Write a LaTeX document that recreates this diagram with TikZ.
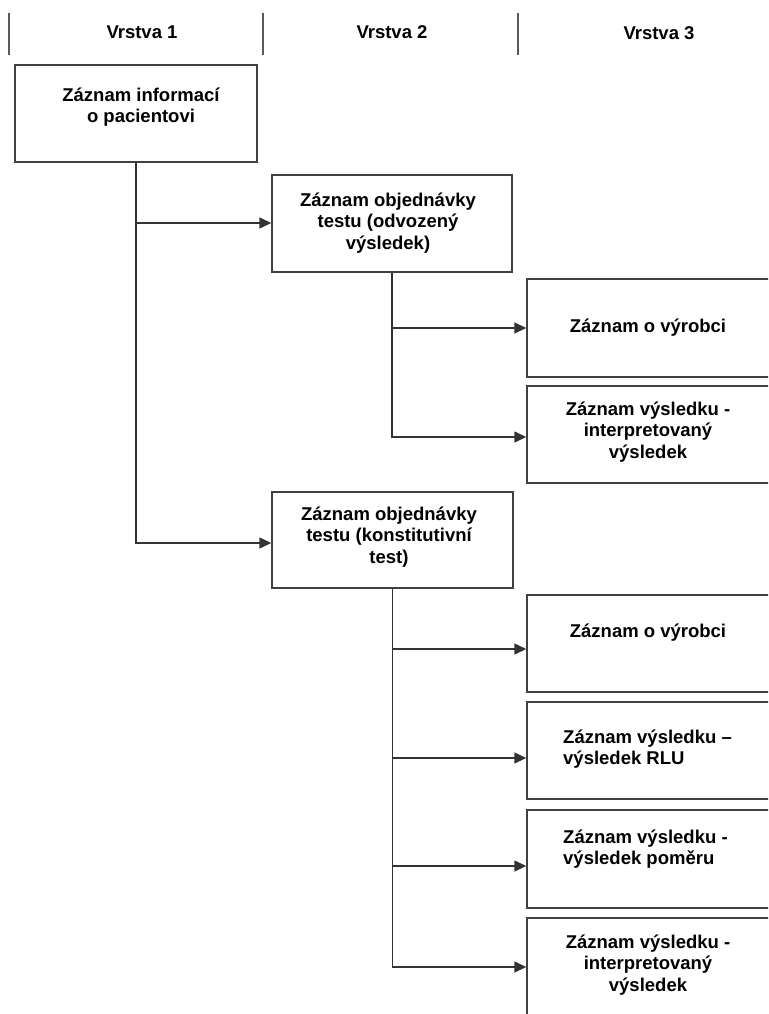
\documentclass[tikz,border=0pt]{standalone}
\usepackage{fontspec}
\setmainfont{Liberation Sans}
\usetikzlibrary{arrows.meta,calc}
\begin{document}
\begin{tikzpicture}[x=1pt,y=-1pt,
  line/.style={draw=black!80, line width=1.4pt},
  box/.style={draw=black!75, line width=1.4pt, rectangle, inner sep=0pt, fill=white},
  txt/.style={font=\bfseries\fontsize{18.5}{21.5}\selectfont, align=center, inner sep=0pt, text=black},
  hdr/.style={font=\bfseries\fontsize{18.5}{21.5}\selectfont, inner sep=0pt, text=black},
  bar/.style={draw=black!65, line width=1.5pt},
  arr/.style={line, -{Triangle[length=12pt,width=11pt]}}]
\useasboundingbox (0,0) rectangle (768,1014);
\clip (0,0) rectangle (768,1014);

% header
\draw[bar] (9,13) -- (9,55);
\draw[bar] (263,13) -- (263,55);
\draw[bar] (518,13) -- (518,55);
\node[hdr] (h1) at (142,32) {Vrstva 1};
\node[hdr] (h2) at (392,32) {Vrstva 2};
\node[hdr] (h3) at (659,33) {Vrstva 3};

% boxes
\node[box, minimum width=242pt, minimum height=97pt] (A) at (136,113.5) {};
\node[box, minimum width=240pt, minimum height=97pt] (B) at (392,223.5) {};
\node[box, minimum width=243pt, minimum height=98pt] (C1) at (648.5,328) {};
\node[box, minimum width=243pt, minimum height=97pt] (C2) at (648.5,434.5) {};
\node[box, minimum width=241pt, minimum height=96pt] (D) at (392.5,540) {};
\node[box, minimum width=243pt, minimum height=97pt] (E1) at (648.5,643.5) {};
\node[box, minimum width=243pt, minimum height=97pt] (E2) at (648.5,750.5) {};
\node[box, minimum width=243pt, minimum height=98pt] (E3) at (648.5,859) {};
\node[box, minimum width=243pt, minimum height=97pt] (E4) at (648.5,966.5) {};

% texts
\node[txt] (At) at (141,107) {Záznam informací\\o pacientovi};
\node[txt] (Bt) at (388,223) {Záznam objednávky\\testu (odvozený\\výsledek)};
\node[txt] (C1t) at (648,328) {Záznam o výrobci};
\node[txt] (C2t) at (648,432) {Záznam výsledku -\\interpretovaný\\výsledek};
\node[txt] (Dt) at (389,537) {Záznam objednávky\\testu (konstitutivní\\test)};
\node[txt] (E1t) at (648,633) {Záznam o výrobci};
\node[txt, align=left, anchor=west] (E2t) at (563,749) {Záznam výsledku –\\výsledek RLU};
\node[txt, align=left, anchor=west] (E3t) at (563,849) {Záznam výsledku -\\výsledek poměru};
\node[txt] (E4t) at (648,965) {Záznam výsledku -\\interpretovaný\\výsledek};

% branch points
\coordinate (bB) at ($(B.west)+(0,-0.5)$);
\coordinate (bD) at ($(D.west)+(0,3)$);
\coordinate (bC1) at (C1.west);
\coordinate (bC2) at ($(C2.west)+(0,2.5)$);
\coordinate (bE1) at ($(E1.west)+(0,5.5)$);
\coordinate (bE2) at ($(E2.west)+(0,7.5)$);
\coordinate (bE3) at ($(E3.west)+(0,7)$);
\coordinate (bE4) at ($(E4.west)+(0,0.5)$);

% connectors
\draw[arr] (A.south) |- (bD);
\draw[arr] (A.south |- bB) -- (bB);
\draw[arr] (B.south) |- (bC2);
\draw[arr] (B.south |- bC1) -- (bC1);
\draw[arr] (D.south) |- (bE4);
\draw[arr] (D.south |- bE1) -- (bE1);
\draw[arr] (D.south |- bE2) -- (bE2);
\draw[arr] (D.south |- bE3) -- (bE3);
\end{tikzpicture}
\end{document}
